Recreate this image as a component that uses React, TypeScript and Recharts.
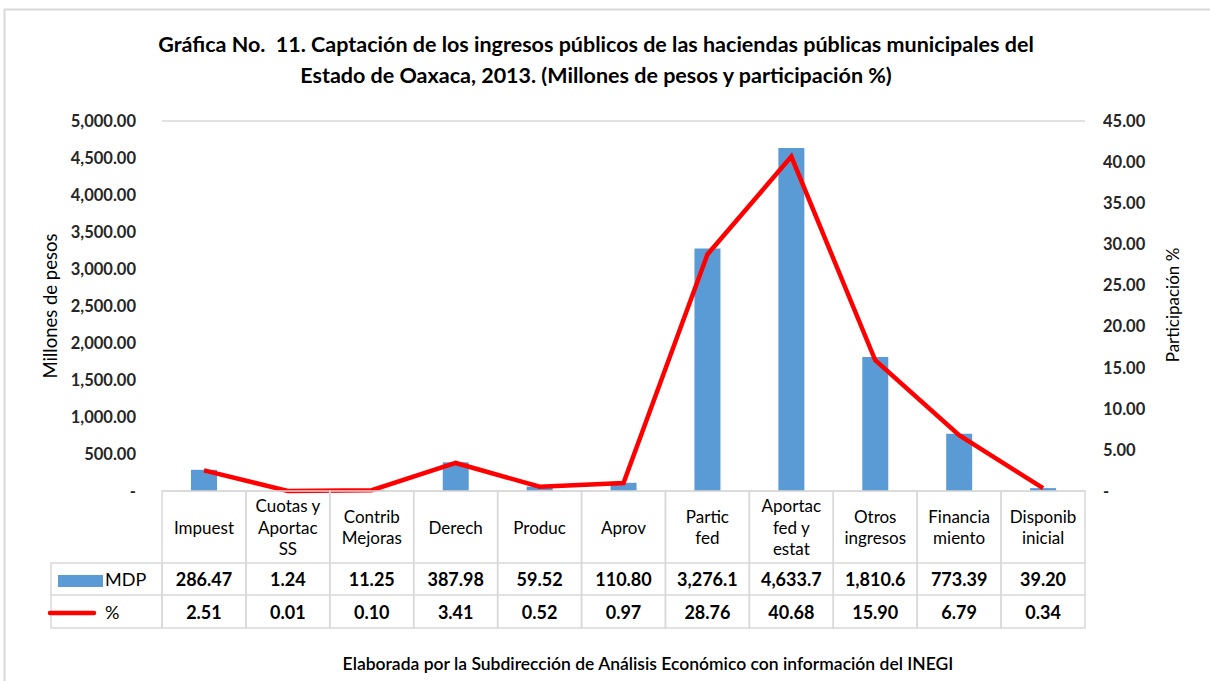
import { Bar, CartesianGrid, ComposedChart, Line, XAxis, YAxis } from "recharts";

const categorias = [
  "Impuest",
  "Cuotas y|Aportac|SS",
  "Contrib|Mejoras",
  "Derech",
  "Produc",
  "Aprov",
  "Partic|fed",
  "Aportac|fed y|estat",
  "Otros|ingresos",
  "Financia|miento",
  "Disponib|inicial",
];
const mdp = [286.47, 1.24, 11.25, 387.98, 59.52, 110.8, 3276.1, 4633.7, 1810.6, 773.39, 39.2];
const participacion = [2.51, 0.01, 0.1, 3.41, 0.52, 0.97, 28.76, 40.68, 15.9, 6.79, 0.34];
const mdpTicks = [0, 500, 1000, 1500, 2000, 2500, 3000, 3500, 4000, 4500, 5000];
const pctTicks = [0, 5, 10, 15, 20, 25, 30, 35, 40, 45];

const data = categorias.map((c, i) => ({ cat: c, mdp: mdp[i], pct: participacion[i] }));

const FONT = "Lato, 'Open Sans', sans-serif";
const BLUE = "#5B9BD5";
const RED = "#FF0000";
const GRID = "#D9D9D9";

// filas de la tabla bajo la gráfica
const TOP = 491;
const ROW1 = 563;
const ROW2 = 595;
const ROW3 = 628;
const LEGEND_LEFT = 51;

const fmtMdp = (v: number) =>
  v >= 1000
    ? v.toLocaleString("en-US", { minimumFractionDigits: 1, maximumFractionDigits: 1 })
    : v.toFixed(2);

const fmtAxis = (v: number) =>
  v === 0 ? "-" : v.toLocaleString("en-US", { minimumFractionDigits: 2, maximumFractionDigits: 2 });

function TableTick(props: any) {
  const { x, index, width, visibleTicksCount } = props;
  const w = width / visibleTicksCount;
  const left = x - w / 2;
  const lines = categorias[index].split("|");
  const lh = 21.5;
  const cy = (TOP + ROW1) / 2;
  const y0 = cy - ((lines.length - 1) * lh) / 2;
  return (
    <g fontFamily={FONT}>
      <rect x={left} y={TOP} width={w} height={ROW3 - TOP} fill="none" stroke={GRID} strokeWidth={1.5} />
      <line x1={left} x2={left + w} y1={ROW1} y2={ROW1} stroke={GRID} strokeWidth={1.5} />
      <line x1={left} x2={left + w} y1={ROW2} y2={ROW2} stroke={GRID} strokeWidth={1.5} />
      {lines.map((l, k) => (
        <text key={k} x={x} y={y0 + k * lh} textAnchor="middle" dominantBaseline="central" fontSize={17} fill="#000">
          {l}
        </text>
      ))}
      <text x={x} y={(ROW1 + ROW2) / 2} textAnchor="middle" dominantBaseline="central" fontSize={18} fontWeight={700} fill="#000">
        {fmtMdp(mdp[index])}
      </text>
      <text x={x} y={(ROW2 + ROW3) / 2} textAnchor="middle" dominantBaseline="central" fontSize={18} fontWeight={700} fill="#000">
        {participacion[index].toFixed(2)}
      </text>
      {index === 0 && (
        <g>
          <rect x={LEGEND_LEFT} y={ROW1} width={left - LEGEND_LEFT} height={ROW3 - ROW1} fill="none" stroke={GRID} strokeWidth={1.5} />
          <line x1={LEGEND_LEFT} x2={left} y1={ROW2} y2={ROW2} stroke={GRID} strokeWidth={1.5} />
          <rect x={58} y={575} width={45} height={12} fill={BLUE} />
          <text x={105} y={(ROW1 + ROW2) / 2} dominantBaseline="central" fontSize={18} fill="#000">MDP</text>
          <line x1={50} x2={94} y1={613} y2={613} stroke={RED} strokeWidth={4.5} strokeLinecap="round" />
          <text x={105} y={(ROW2 + ROW3) / 2} dominantBaseline="central" fontSize={18} fill="#000">%</text>
        </g>
      )}
    </g>
  );
}

export default function App() {
  return (
    <div style={{ position: "absolute", left: 0, top: 0, width: 1210, height: 681, background: "#fff" }}>
      <svg width={1210} height={681} style={{ position: "absolute", left: 0, top: 0 }}>
        <line x1={4.5} x2={4.5} y1={9} y2={681} stroke="#D9D9D9" strokeWidth={2} />
        <line x1={4} x2={1210} y1={9.5} y2={9.5} stroke="#D9D9D9" strokeWidth={2} />
        <g fontFamily={FONT} fontWeight={700} fontSize={21.5} fill="#000" textAnchor="middle">
          <text x={596} y={52}>{"Gráfica No.\u00A0 11. Captación de los ingresos públicos de las haciendas públicas municipales del"}</text>
          <text x={596} y={83}>Estado de Oaxaca, 2013. (Millones de pesos y participación %)</text>
        </g>
        <text x={648} y={670} fontFamily={FONT} fontWeight={600} fontSize={17.5} fill="#000" textAnchor="middle">
          Elaborada por la Subdirección de Análisis Económico con información del INEGI
        </text>
        <text transform="translate(57,306) rotate(-90)" fontFamily={FONT} fontSize={18.5} fill="#000" textAnchor="middle">
          Millones de pesos
        </text>
        <text transform="translate(1179,305) rotate(-90)" fontFamily={FONT} fontSize={17} fill="#000" textAnchor="middle">
          Participación %
        </text>
      </svg>
      <div style={{ position: "absolute", left: 0, top: 0 }}>
        <ComposedChart
          width={1210}
          height={681}
          data={data}
          margin={{ top: 121, left: 82, right: 45, bottom: 40 }}
        >
          <CartesianGrid vertical={false} stroke={GRID} strokeWidth={1.5} />
          <XAxis
            dataKey="cat"
            height={150}
            axisLine={false}
            tickLine={false}
            interval={0}
            tick={<TableTick />}
          />
          <YAxis
            yAxisId="l"
            width={80}
            domain={[0, 5000]}
            ticks={mdpTicks}
            tickFormatter={fmtAxis}
            axisLine={false}
            tickLine={false}
            tickSize={0}
            tickMargin={26}
            tick={{ fill: "#262626", fontSize: 16.5, fontWeight: 700, fontFamily: FONT }}
          />
          <YAxis
            yAxisId="r"
            orientation="right"
            width={80}
            domain={[0, 45]}
            ticks={pctTicks}
            tickFormatter={fmtAxis}
            axisLine={false}
            tickLine={false}
            tickSize={0}
            tickMargin={18}
            tick={{ fill: "#262626", fontSize: 16.5, fontWeight: 700, fontFamily: FONT }}
          />
          <Bar yAxisId="l" dataKey="mdp" fill={BLUE} barSize={26} isAnimationActive={false} />
          <Line
            yAxisId="r"
            type="linear"
            dataKey="pct"
            stroke={RED}
            strokeWidth={4.5}
            dot={false}
            activeDot={false}
            isAnimationActive={false}
          />
        </ComposedChart>
      </div>
    </div>
  );
}
